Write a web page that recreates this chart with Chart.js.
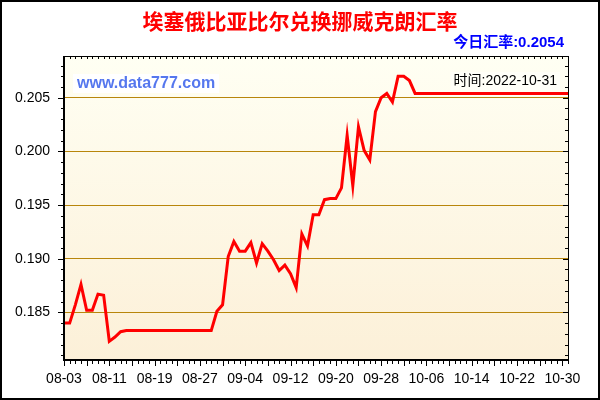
<!DOCTYPE html>
<html><head><meta charset="utf-8">
<script src="https://cdn.jsdelivr.net/npm/chart.js@4.4.1/dist/chart.umd.min.js"></script>
<style>html,body{margin:0;padding:0;background:#fff}#wrap{width:600px;height:400px;position:relative}</style>
</head><body><div id="wrap"><canvas id="c" width="600" height="400"></canvas></div>
<script>
const startDate = [2022, 8, 3];
const monthDays = {8: 31, 9: 30, 10: 31};
const dates = [];
(function () {
  let m = startDate[1], d = startDate[2];
  for (let i = 0; i < 90; i++) {
    dates.push(String(m).padStart(2, '0') + '-' + String(d).padStart(2, '0'));
    d++; if (d > monthDays[m]) { d = 1; m++; }
  }
})();
const rates = [
  0.1840, 0.1840, 0.1857, 0.1876, 0.1852, 0.1852, 0.1867, 0.1866, 0.1823, 0.1827,
  0.1832, 0.1833, 0.1833, 0.1833, 0.1833, 0.1833, 0.1833, 0.1833, 0.1833, 0.1833,
  0.1833, 0.1833, 0.1833, 0.1833, 0.1833, 0.1833, 0.1833, 0.1851, 0.1857, 0.1902,
  0.1916, 0.1907, 0.1907, 0.1915, 0.1896, 0.1914, 0.1907, 0.1899, 0.1889, 0.1894,
  0.1886, 0.1873, 0.1923, 0.1912, 0.1941, 0.1941, 0.1955, 0.1956, 0.1956, 0.1966,
  0.2015, 0.1968, 0.2023, 0.2001, 0.1992, 0.2037, 0.2050, 0.2054, 0.2046, 0.2070,
  0.2070, 0.2066, 0.2054, 0.2054, 0.2054, 0.2054, 0.2054, 0.2054, 0.2054, 0.2054,
  0.2054, 0.2054, 0.2054, 0.2054, 0.2054, 0.2054, 0.2054, 0.2054, 0.2054, 0.2054,
  0.2054, 0.2054, 0.2054, 0.2054, 0.2054, 0.2054, 0.2054, 0.2054, 0.2054, 0.2054
];
const yMajorTicks = [0.185, 0.190, 0.195, 0.200, 0.205];
const yMin = 0.18056, yMax = 0.20889;
const titleText = '埃塞俄比亚比尔兑换挪威克朗汇率';
const todayText = '今日汇率:0.2054';
const siteText = 'www.data777.com';
const timeText = '时间:2022-10-31';

const isMajorY = v => yMajorTicks.some(t => Math.abs(t - v) < 1e-7);

const decor = {
  id: 'decor',
  beforeDraw(chart) {
    const ctx = chart.ctx, a = chart.chartArea;
    ctx.save();
    ctx.fillStyle = '#fff';
    ctx.fillRect(0, 0, chart.width, chart.height);
    const g = ctx.createLinearGradient(0, a.top, 0, a.bottom);
    g.addColorStop(0, '#FFFFF3');
    g.addColorStop(1, '#FCF0D8');
    ctx.fillStyle = g;
    ctx.fillRect(a.left, a.top, a.right - a.left, a.bottom - a.top);
    ctx.restore();
  },
  afterDraw(chart) {
    const ctx = chart.ctx, a = chart.chartArea;
    const xs = chart.scales.x, ys = chart.scales.y;
    ctx.save();
    ctx.strokeStyle = '#000';
    ctx.lineWidth = 1;
    ctx.beginPath();
    for (let i = 0; i < dates.length; i++) {
      const x = Math.round(xs.getPixelForValue(i)) + 0.5;
      const major = i % 4 === 0;
      ctx.moveTo(x, a.bottom); ctx.lineTo(x, a.bottom + (major ? 6 : 4));
      ctx.moveTo(x, a.top); ctx.lineTo(x, a.top + 3);
    }
    ys.ticks.forEach(t => {
      const y = Math.round(ys.getPixelForValue(t.value)) + 0.5;
      const major = isMajorY(t.value);
      ctx.moveTo(a.left, y); ctx.lineTo(a.left - (major ? 6 : 3), y);
      ctx.moveTo(a.right, y); ctx.lineTo(a.right - (major ? 5 : 3), y);
    });
    ctx.stroke();
    // frame
    ctx.beginPath();
    ctx.lineWidth = 2;
    ctx.moveTo(a.left, a.top); ctx.lineTo(a.left, a.bottom + 1);
    ctx.moveTo(a.left - 1, a.bottom); ctx.lineTo(a.right + 1, a.bottom);
    ctx.stroke();
    ctx.beginPath();
    ctx.lineWidth = 1;
    ctx.moveTo(a.left, a.top + 0.5); ctx.lineTo(a.right + 0.5, a.top + 0.5);
    ctx.moveTo(a.right + 0.5, a.top); ctx.lineTo(a.right + 0.5, a.bottom);
    ctx.stroke();
    // texts
    ctx.textBaseline = 'middle';
    ctx.textAlign = 'center';
    ctx.fillStyle = '#FF0000';
    ctx.font = 'bold 21px "Noto Sans CJK SC", sans-serif';
    ctx.fillText(titleText, 300, 21);
    ctx.textAlign = 'right';
    ctx.fillStyle = '#0000FF';
    ctx.font = 'bold 15px "Liberation Sans", "Noto Sans CJK SC", sans-serif';
    ctx.fillText(todayText, 564, 43);
    // site
    ctx.textAlign = 'left';
    ctx.font = 'bold 16px "Liberation Sans", Arial, sans-serif';
    const sw = ctx.measureText(siteText).width;
    ctx.fillStyle = '#FFFFFF';
    ctx.fillRect(73, 74, sw + 8, 19);
    ctx.fillStyle = '#5577EE';
    ctx.fillText(siteText, 77, 84);
    // time
    ctx.textAlign = 'right';
    ctx.font = '14px "Liberation Sans", "Noto Sans CJK SC", sans-serif';
    const tw = ctx.measureText(timeText).width;
    ctx.fillStyle = '#FFFFF8';
    ctx.fillRect(557 - tw - 3, 72, tw + 6, 18);
    ctx.fillStyle = '#000';
    ctx.fillText(timeText, 557, 81);
    // outer border
    ctx.lineWidth = 2;
    ctx.strokeStyle = '#000';
    ctx.strokeRect(1, 1, chart.width - 2, chart.height - 2);
    ctx.restore();
  }
};

new Chart(document.getElementById('c'), {
  type: 'line',
  data: {
    labels: dates,
    datasets: [{
      data: rates,
      borderColor: '#FF0000',
      borderWidth: 3,
      pointRadius: 0,
      tension: 0,
      fill: false
    }]
  },
  options: {
    responsive: false,
    animation: false,
    devicePixelRatio: 1,
    layout: { padding: { left: 2, right: 32, top: 56, bottom: 0 } },
    plugins: { legend: { display: false }, tooltip: { enabled: false }, title: { display: false } },
    scales: {
      x: {
        type: 'category',
        offset: false,
        grid: { display: false, drawTicks: false },
        border: { display: false },
        afterFit: s => { s.height = 40; },
        ticks: {
          autoSkip: false, maxRotation: 0, minRotation: 0, padding: 11,
          color: '#000', font: { family: '"Liberation Sans", Arial, sans-serif', size: 14 },
          callback: (v, i) => (i % 8 === 0 ? dates[i] : '')
        }
      },
      y: {
        type: 'linear',
        min: yMin, max: yMax,
        grid: {
          drawTicks: false,
          color: c => (c.tick && isMajorY(c.tick.value) ? '#B8860B' : 'rgba(0,0,0,0)'),
          lineWidth: 1
        },
        border: { display: false },
        afterFit: s => { s.width = 62; },
        ticks: {
          autoSkip: false,
          stepSize: 0.001, includeBounds: false, padding: 14,
          color: '#000', font: { family: '"Liberation Sans", Arial, sans-serif', size: 14 },
          callback: v => (isMajorY(v) ? v.toFixed(3) : '')
        }
      }
    }
  },
  plugins: [decor]
});
</script></body></html>
